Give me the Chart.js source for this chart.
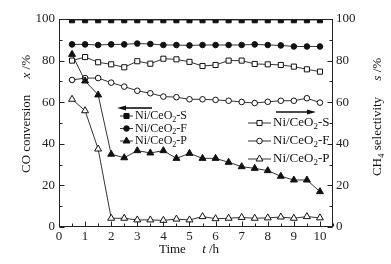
<!DOCTYPE html>
<html>
<head>
<meta charset="utf-8">
<script src="https://cdn.jsdelivr.net/npm/chart.js@4.4.0/dist/chart.umd.min.js"></script>
<style>
    html, body { margin: 0; padding: 0; background: #fff; }
    #wrap { width: 391px; height: 264px; }
</style>
</head>
<body>
<div id="wrap"><canvas id="chart"></canvas></div>
<script>
// time on stream, h
var times = [0.5, 1, 1.5, 2, 2.5, 3, 3.5, 4, 4.5, 5, 5.5, 6, 6.5, 7, 7.5, 8, 8.5, 9, 9.5, 10];

// CO conversion, %
var convS = [99.4, 99.4, 99.4, 99.4, 99.4, 99.4, 99.4, 99.4, 99.4, 99.4, 99.4, 99.4, 99.4, 99.4, 99.4, 99.4, 99.4, 99.4, 99.4, 99.4];
var convF = [87.8, 87.8, 87.5, 87.8, 87.8, 88.2, 88.0, 87.5, 87.5, 87.3, 87.5, 87.5, 87.5, 87.5, 87.8, 87.5, 87.3, 86.8, 86.8, 86.8];
var convP = [83.0, 70.2, 63.5, 35.0, 33.3, 36.7, 35.6, 36.7, 33.0, 35.4, 33.0, 33.0, 31.1, 29.0, 28.2, 27.1, 24.4, 22.6, 22.6, 17.0];

// CH4 selectivity, %
var selS = [80.0, 81.7, 79.2, 78.2, 76.8, 79.7, 78.5, 80.9, 80.6, 79.4, 77.4, 77.9, 80.0, 80.0, 78.4, 78.2, 77.9, 77.1, 75.8, 74.7];
var selF = [70.7, 71.6, 71.6, 69.4, 67.5, 65.5, 64.3, 62.7, 62.4, 61.4, 61.4, 61.1, 60.7, 60.1, 59.6, 60.2, 60.7, 60.7, 61.9, 59.8];
var selP = [61.4, 55.9, 37.5, 4.2, 4.2, 3.4, 3.4, 3.2, 3.8, 3.4, 5.0, 4.0, 4.2, 4.6, 4.2, 4.4, 4.8, 4.2, 5.0, 4.4];

var xTicks = [0, 1, 2, 3, 4, 5, 6, 7, 8, 9, 10];
var yTicks = [0, 20, 40, 60, 80, 100];

var serif = "'Liberation Serif', 'Times New Roman', serif";

function pts(arr) {
    return arr.map(function (v, i) { return { x: times[i], y: v }; });
}

function series(label, arr, axis, style, radius, filled, line) {
    return {
        label: label,
        data: pts(arr),
        yAxisID: axis,
        borderColor: line || '#333',
        borderWidth: 1,
        pointStyle: style,
        pointRadius: radius,
        pointBorderWidth: 1,
        pointBorderColor: '#111',
        pointBackgroundColor: filled ? '#111' : '#fff',
        tension: 0,
        fill: false
    };
}

function drawMarker(ctx, style, x, y, r, filled) {
    ctx.beginPath();
    if (style === 'rect') {
        var s = r * Math.SQRT1_2;
        ctx.rect(x - s, y - s, 2 * s, 2 * s);
    } else if (style === 'triangle') {
        ctx.moveTo(x, y - r);
        ctx.lineTo(x + r * 0.866, y + r * 0.5);
        ctx.lineTo(x - r * 0.866, y + r * 0.5);
        ctx.closePath();
    } else {
        ctx.arc(x, y, r, 0, Math.PI * 2);
    }
    ctx.fillStyle = filled ? '#111' : '#fff';
    ctx.fill();
    ctx.strokeStyle = '#111';
    ctx.lineWidth = 1;
    ctx.stroke();
}

// "Ni/CeO" + subscript 2 + "-S"
function drawSubText(ctx, x, y, parts, size) {
    ctx.textBaseline = 'middle';
    ctx.textAlign = 'left';
    parts.forEach(function (p) {
        var fs = p.sub ? Math.round(size * 0.7) : size;
        ctx.font = (p.italic ? 'italic ' : '') + fs + 'px ' + serif;
        ctx.fillText(p.t, x, y + (p.sub ? size * 0.3 : 0));
        x += ctx.measureText(p.t).width;
    });
    return x;
}

function textWidth(ctx, parts, size) {
    var w = 0;
    parts.forEach(function (p) {
        var fs = p.sub ? Math.round(size * 0.7) : size;
        ctx.font = (p.italic ? 'italic ' : '') + fs + 'px ' + serif;
        w += ctx.measureText(p.t).width;
    });
    return w;
}

function arrow(ctx, x1, x2, y) {
    var dir = x2 > x1 ? 1 : -1;
    ctx.beginPath();
    ctx.moveTo(x1, y);
    ctx.lineTo(x2 - dir * 7, y);
    ctx.lineWidth = 1.6;
    ctx.strokeStyle = '#111';
    ctx.stroke();
    ctx.beginPath();
    ctx.moveTo(x2, y);
    ctx.lineTo(x2 - dir * 9, y - 2.6);
    ctx.lineTo(x2 - dir * 9, y + 2.6);
    ctx.closePath();
    ctx.fillStyle = '#111';
    ctx.fill();
}

var decor = {
    id: 'decor',
    afterDraw: function (chart) {
        var ctx = chart.ctx, a = chart.chartArea;
        var sx = chart.scales.x, sy = chart.scales.y;
        var L = Math.round(a.left) + 0.5, R = Math.round(a.right) - 0.5;
        var T = Math.round(a.top) + 0.5, B = Math.round(a.bottom) - 0.5;
        ctx.save();

        // frame
        ctx.strokeStyle = '#222';
        ctx.lineWidth = 1;
        ctx.strokeRect(L, T, R - L, B - T);

        // inward ticks, minor ones half way between labelled ticks
        ctx.beginPath();
        yTicks.forEach(function (v, i) {
            var vals = [v];
            if (i < yTicks.length - 1) vals.push((v + yTicks[i + 1]) / 2);
            vals.forEach(function (w, j) {
                var len = j === 0 ? 5 : 3;
                var py = Math.round(sy.getPixelForValue(w)) + 0.5;
                ctx.moveTo(L, py); ctx.lineTo(L + len, py);
                ctx.moveTo(R, py); ctx.lineTo(R - len, py);
            });
        });
        xTicks.forEach(function (v, i) {
            var vals = [v, v + 0.5];
            vals.forEach(function (w, j) {
                var len = j === 0 ? 5 : 3;
                var px = Math.round(sx.getPixelForValue(w)) + 0.5;
                ctx.moveTo(px, B); ctx.lineTo(px, B - len);
            });
        });
        ctx.stroke();

        // axis titles
        ctx.fillStyle = '#111';
        var leftT = [{ t: 'CO conversion' }, { t: '     ' }, { t: 'x', italic: true }, { t: ' /%' }];
        ctx.save();
        ctx.translate(27, 114);
        ctx.rotate(-Math.PI / 2);
        drawSubText(ctx, -textWidth(ctx, leftT, 13) / 2, 0, leftT, 13);
        ctx.restore();

        var rightT = [{ t: 'CH' }, { t: '4', sub: true }, { t: ' selectivity' }, { t: '     ' }, { t: 's', italic: true }, { t: ' /%' }];
        ctx.save();
        ctx.translate(378, 117);
        ctx.rotate(-Math.PI / 2);
        drawSubText(ctx, -textWidth(ctx, rightT, 13) / 2, 0, rightT, 13);
        ctx.restore();

        var botT = [{ t: 'Time' }, { t: '     ' }, { t: 't', italic: true }, { t: ' /h' }];
        drawSubText(ctx, 189 - textWidth(ctx, botT, 13) / 2, 250, botT, 13);

        // legends
        var ds = chart.data.datasets;
        function row(d, x0, x1, y, size) {
            ctx.beginPath();
            ctx.moveTo(x0, y); ctx.lineTo(x1, y);
            ctx.strokeStyle = '#333'; ctx.lineWidth = 1;
            ctx.stroke();
            drawMarker(ctx, d.pointStyle, (x0 + x1) / 2, y, d.pointRadius, d.pointBackgroundColor !== '#fff');
            var tail = d.label.split('2');
            ctx.fillStyle = '#111';
            drawSubText(ctx, x1 + 2, y, [{ t: tail[0] }, { t: '2', sub: true }, { t: tail[1] }], size);
        }
        arrow(ctx, 152, 117, 108);
        row(ds[0], 120, 133, 116, 12);
        row(ds[1], 120, 133, 128.5, 12);
        row(ds[2], 120, 133, 141, 12);

        arrow(ctx, 276, 316, 112);
        row(ds[3], 248, 271, 123, 13);
        row(ds[4], 248, 271, 141, 13);
        row(ds[5], 248, 271, 159, 13);

        ctx.restore();
    }
};

new Chart(document.getElementById('chart'), {
    type: 'line',
    data: {
        datasets: [
            series('Ni/CeO2-S', convS, 'y', 'rect', 3.6, true, '#888'),
            series('Ni/CeO2-F', convF, 'y', 'circle', 2.8, true),
            series('Ni/CeO2-P', convP, 'y', 'triangle', 4, true),
            series('Ni/CeO2-S', selS, 'y2', 'rect', 3.6, false),
            series('Ni/CeO2-F', selF, 'y2', 'circle', 2.8, false),
            series('Ni/CeO2-P', selP, 'y2', 'triangle', 4, false)
        ]
    },
    options: {
        responsive: true,
        maintainAspectRatio: false,
        animation: false,
        layout: { padding: { top: 19, left: 0, right: 0, bottom: 0 } },
        plugins: { legend: { display: false }, tooltip: { enabled: false } },
        scales: {
            x: {
                type: 'linear', min: 0, max: 10.5,
                afterBuildTicks: function (s) { s.ticks = xTicks.map(function (v) { return { value: v }; }); },
                afterFit: function (s) { s.height = 37; },
                grid: { display: false, drawTicks: false },
                border: { display: false },
                ticks: { padding: 2, color: '#222', font: { family: serif, size: 13 }, maxRotation: 0 }
            },
            y: {
                position: 'left', min: 0, max: 100,
                afterBuildTicks: function (s) { s.ticks = yTicks.map(function (v) { return { value: v }; }); },
                afterFit: function (s) { s.width = 59; },
                grid: { display: false, drawTicks: false },
                border: { display: false },
                ticks: { padding: 4, color: '#222', font: { family: serif, size: 13 } }
            },
            y2: {
                position: 'right', min: 0, max: 100,
                afterBuildTicks: function (s) { s.ticks = yTicks.map(function (v) { return { value: v }; }); },
                afterFit: function (s) { s.width = 58; },
                grid: { display: false, drawTicks: false },
                border: { display: false },
                ticks: { padding: 3, color: '#222', font: { family: serif, size: 13 } }
            }
        }
    },
    plugins: [decor]
});
</script>
</body>
</html>
